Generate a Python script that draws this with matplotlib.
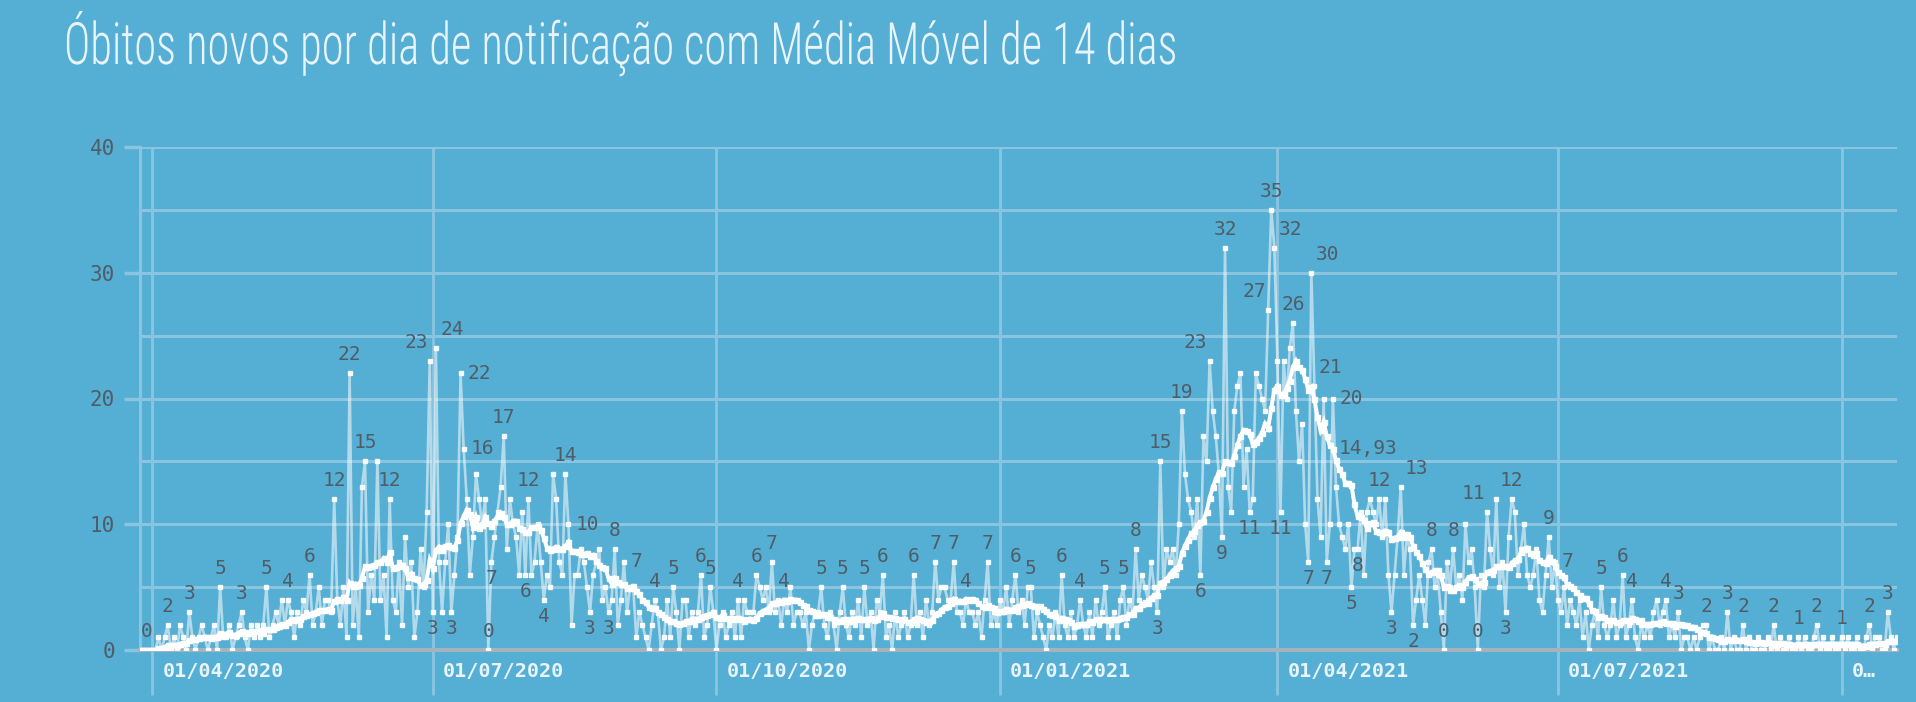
import numpy as np
import pandas as pd
import matplotlib
matplotlib.use("Agg")
import matplotlib.pyplot as plt
import matplotlib.patheffects as pe
from matplotlib.transforms import Affine2D, ScaledTranslation
from matplotlib import font_manager


# === DATA ===
START_DATE = '2020-03-28'

# óbitos novos por dia (14 dias por linha)
DAILY = [
    0, 0, 0, 0, 0, 0, 1, 0, 1, 2, 0, 1, 0, 2,
    1, 0, 3, 1, 0, 1, 2, 1, 0, 1, 2, 0, 5, 1,
    1, 2, 0, 1, 2, 3, 1, 0, 2, 1, 2, 1, 2, 5,
    1, 2, 3, 2, 4, 2, 4, 3, 1, 3, 2, 4, 3, 6,
    2, 3, 5, 2, 4, 4, 3, 12, 4, 2, 5, 1, 22, 2,
    5, 1, 13, 15, 3, 6, 4, 15, 4, 6, 1, 12, 4, 3,
    7, 2, 9, 5, 7, 1, 3, 8, 5, 11, 23, 3, 24, 7,
    3, 7, 10, 3, 6, 9, 22, 16, 12, 6, 9, 14, 12, 10,
    12, 0, 7, 9, 11, 13, 17, 8, 12, 10, 9, 6, 11, 6,
    12, 6, 7, 10, 7, 4, 6, 5, 14, 12, 7, 6, 14, 10,
    2, 6, 6, 8, 7, 5, 3, 6, 7, 8, 4, 5, 3, 4,
    8, 2, 4, 7, 3, 5, 5, 1, 3, 2, 1, 0, 2, 4,
    3, 0, 1, 4, 1, 5, 3, 0, 4, 4, 1, 3, 2, 3,
    6, 1, 2, 5, 3, 0, 2, 3, 1, 2, 3, 1, 4, 1,
    4, 3, 3, 3, 6, 5, 4, 5, 3, 7, 3, 4, 2, 4,
    3, 5, 2, 3, 3, 2, 3, 0, 2, 3, 3, 5, 2, 1,
    3, 2, 0, 3, 5, 2, 1, 3, 2, 4, 1, 5, 2, 3,
    0, 4, 3, 6, 1, 2, 0, 3, 1, 2, 3, 1, 2, 6,
    2, 3, 1, 4, 2, 3, 7, 4, 5, 5, 4, 4, 7, 3,
    3, 2, 4, 3, 3, 2, 3, 1, 4, 7, 2, 3, 2, 4,
    3, 5, 2, 4, 6, 3, 4, 2, 5, 5, 1, 3, 2, 1,
    0, 2, 1, 3, 1, 6, 2, 1, 3, 1, 2, 4, 2, 1,
    3, 1, 4, 2, 3, 5, 1, 2, 3, 1, 4, 5, 2, 4,
    3, 8, 4, 6, 5, 4, 7, 5, 3, 15, 5, 8, 7, 8,
    6, 10, 19, 14, 12, 11, 9, 12, 6, 17, 15, 23, 19, 17,
    14, 9, 32, 13, 11, 19, 21, 22, 13, 16, 11, 12, 22, 21,
    20, 19, 27, 35, 32, 23, 11, 23, 20, 24, 26, 19, 15, 18,
    10, 7, 30, 21, 12, 9, 20, 7, 10, 20, 13, 10, 9, 8,
    10, 5, 8, 8, 11, 6, 11, 12, 11, 10, 12, 9, 12, 6,
    3, 6, 9, 13, 6, 9, 8, 2, 4, 6, 4, 2, 7, 8,
    5, 6, 3, 0, 7, 5, 8, 5, 6, 4, 10, 7, 8, 5,
    0, 6, 5, 11, 8, 6, 12, 5, 7, 3, 9, 12, 11, 6,
    8, 10, 6, 5, 6, 8, 4, 3, 6, 9, 5, 7, 4, 3,
    5, 2, 4, 3, 2, 4, 1, 3, 0, 2, 3, 1, 5, 2,
    1, 2, 4, 1, 2, 6, 1, 2, 4, 1, 0, 2, 1, 2,
    1, 3, 4, 2, 3, 4, 1, 2, 1, 3, 0, 1, 1, 0,
    1, 0, 1, 2, 2, 0, 1, 0, 0, 1, 0, 3, 0, 1,
    0, 0, 2, 0, 1, 0, 0, 1, 0, 0, 1, 0, 2, 0,
    1, 0, 0, 1, 0, 0, 1, 0, 1, 0, 0, 1, 2, 0,
    1, 0, 0, 1, 0, 0, 1, 0, 1, 0, 0, 1, 0, 0,
    1, 2, 0, 1, 1, 0, 0, 3, 1, 0, 1,
]

# dias com rótulo: (índice do dia, posição)
# a=acima, al/ar=acima à esquerda/direita, b=abaixo, r=direita
LABELED_DAYS = [
    (2, 'a'), (9, 'a'), (16, 'a'), (26, 'a'), (33, 'a'), (41, 'a'), (48, 'a'),
    (55, 'a'), (63, 'a'), (68, 'a'), (73, 'a'), (81, 'a'), (94, 'al'), (95, 'b'),
    (96, 'ar'), (101, 'b'), (104, 'r'), (105, 'r'), (113, 'a'), (114, 'b'),
    (118, 'a'), (125, 'b'), (126, 'a'), (131, 'b'), (138, 'a'), (139, 'r'),
    (146, 'b'), (152, 'b'), (154, 'a'), (157, 'r'), (167, 'a'), (173, 'a'),
    (182, 'a'), (185, 'a'), (194, 'a'), (200, 'a'), (205, 'a'), (209, 'a'),
    (221, 'a'), (228, 'a'), (235, 'a'), (241, 'a'), (251, 'a'), (258, 'a'),
    (264, 'a'), (268, 'a'), (275, 'a'), (284, 'a'), (289, 'a'), (299, 'a'),
    (305, 'a'), (313, 'a'), (319, 'a'), (323, 'a'), (330, 'b'), (331, 'a'),
    (338, 'a'), (344, 'b'), (347, 'al'), (351, 'b'), (352, 'a'), (360, 'b'),
    (366, 'al'), (367, 'a'), (368, 'ar'), (370, 'b'), (374, 'a'), (379, 'b'),
    (380, 'ar'), (381, 'ar'), (385, 'b'), (387, 'r'), (393, 'b'), (395, 'b'),
    (402, 'a'), (406, 'b'), (409, 'ar'), (413, 'b'), (419, 'a'), (423, 'a'),
    (426, 'a'), (434, 'a'), (437, 'al'), (443, 'b'), (445, 'a'), (457, 'a'),
    (459, 'r'), (474, 'a'), (481, 'a'), (484, 'a'), (495, 'a'), (499, 'a'),
    (508, 'a'), (515, 'a'), (520, 'a'), (530, 'a'), (538, 'a'), (544, 'a'),
    (552, 'a'), (561, 'a'), (567, 'a'),
]

MA_NOTE_DAY = 387
MA_NOTE_TEXT = '14,93'

MONTH_TICKS = ['2020-04-01', '2020-07-01', '2020-10-01', '2021-01-01',
               '2021-04-01', '2021-07-01', '2021-10-01']
MONTH_LABELS = ['01/04/2020', '01/07/2020', '01/10/2020', '01/01/2021',
                '01/04/2021', '01/07/2021', '0…']
Y_MAJOR = [0, 10, 20, 30, 40]
Y_MINOR = [5, 15, 25, 35]

TITLE = 'Óbitos novos por dia de notificação com Média Móvel de 14 dias'

# === STYLE ===
W, H, DPI = 1916, 702, 100
BG = '#55aed4'
GRID = '#8ac5df'
ZERO_LINE = '#a3b4bd'
LABEL_GRAY = '#515d66'
LIGHT_TEXT = '#e8f4fa'
MONO = 'DejaVu Sans Mono'

installed = {f.name for f in font_manager.fontManager.ttflist}
title_font = next((f for f in ['Roboto Condensed', 'Liberation Sans Narrow', 'Roboto',
                               'Lato', 'Open Sans', 'DejaVu Sans'] if f in installed),
                  'DejaVu Sans')


class Squeeze(pe.AbstractPathEffect):
    """narrows text horizontally (title font is very condensed)"""
    def __init__(self, sx):
        super().__init__()
        self.sx = sx

    def draw_path(self, renderer, gc, tpath, affine, rgbFace=None):
        renderer.draw_path(gc, tpath, Affine2D().scale(self.sx, 1.0) + affine, rgbFace)


# === PLOT ===
dates = pd.date_range(START_DATE, periods=len(DAILY), freq='D')
daily = pd.Series(DAILY, index=dates, dtype=float)
media = daily.rolling(14, min_periods=1).mean()

fig = plt.figure(figsize=(W / DPI, H / DPI), dpi=DPI, facecolor=BG)
ax = fig.add_axes([140 / W, 52 / H, 1757 / W, 503 / H])
ax.set_facecolor(BG)

ax.plot(dates, daily.values, color='white', alpha=0.55, lw=1.9, zorder=3)
ax.plot(dates, daily.values, ls='none', marker='s', ms=2.8, color='white',
        alpha=0.9, zorder=4)
ax.plot(dates, media.values, color='white', lw=2.9, marker='s', ms=3.6,
        zorder=5, solid_joinstyle='miter')

ax.set_xlim(dates[0], dates[-1])
ax.set_ylim(0, 40)

for side in ['top', 'right']:
    ax.spines[side].set_visible(False)
ax.spines['left'].set_color(GRID)
ax.spines['left'].set_linewidth(2.2)
ax.spines['bottom'].set_color(ZERO_LINE)
ax.spines['bottom'].set_linewidth(3)

# y axis
ax.set_yticks(Y_MAJOR)
ax.set_yticks(Y_MINOR, minor=True)
ax.tick_params(axis='y', which='major', length=11.5, width=2.5, color=GRID,
               pad=6.5, labelsize=15, labelcolor=LABEL_GRAY)
ax.tick_params(axis='y', which='minor', length=0)
for lbl in ax.get_yticklabels():
    lbl.set_fontfamily(MONO)
ax.grid(axis='y', which='both', color=GRID, lw=2.2)

# x axis: month lines run down through the label row
ax.set_xticks(pd.to_datetime(MONTH_TICKS))
ax.set_xticklabels(MONTH_LABELS)
ax.tick_params(axis='x', length=32.4, width=2, color=GRID, direction='out',
               pad=-24, labelsize=14.5, labelcolor=LIGHT_TEXT)
ax.grid(axis='x', which='major', color=GRID, lw=2)
ax.set_axisbelow(True)
shift = ScaledTranslation(10 / DPI, 0, fig.dpi_scale_trans)
for lbl in ax.get_xticklabels():
    lbl.set_fontfamily(MONO)
    lbl.set_fontweight('bold')
    lbl.set_ha('left')
    lbl.set_transform(lbl.get_transform() + shift)

# data labels
offsets = {'a': ((0, 9), 'center', 'bottom'),
           'al': ((-14, 9), 'center', 'bottom'),
           'ar': ((16, 9), 'center', 'bottom'),
           'b': ((0, -7), 'center', 'top'),
           'r': ((7, 0), 'left', 'center')}
for day, where in LABELED_DAYS:
    xy_off, ha, va = offsets[where]
    ax.annotate(f'{DAILY[day]:.0f}', (dates[day], DAILY[day]), xytext=xy_off,
                textcoords='offset pixels', ha=ha, va=va, fontsize=14,
                family=MONO, color=LABEL_GRAY, zorder=6, annotation_clip=False)

ax.annotate(MA_NOTE_TEXT, (dates[MA_NOTE_DAY], media.iloc[MA_NOTE_DAY]),
            xytext=(6, 0), textcoords='offset pixels', ha='left', va='center',
            fontsize=14, family=MONO, color=LABEL_GRAY, zorder=6)

# title
title = fig.text(64 / W, 1 - 64 / H, TITLE, fontsize=42, color=LIGHT_TEXT,
                 ha='left', va='baseline', family=title_font, fontweight='light')
bb = title.get_window_extent(renderer=fig.canvas.get_renderer())
title.set_path_effects([Squeeze((1179 - 64) / bb.width)])

fig.savefig('out.png', dpi=DPI, facecolor=BG)
